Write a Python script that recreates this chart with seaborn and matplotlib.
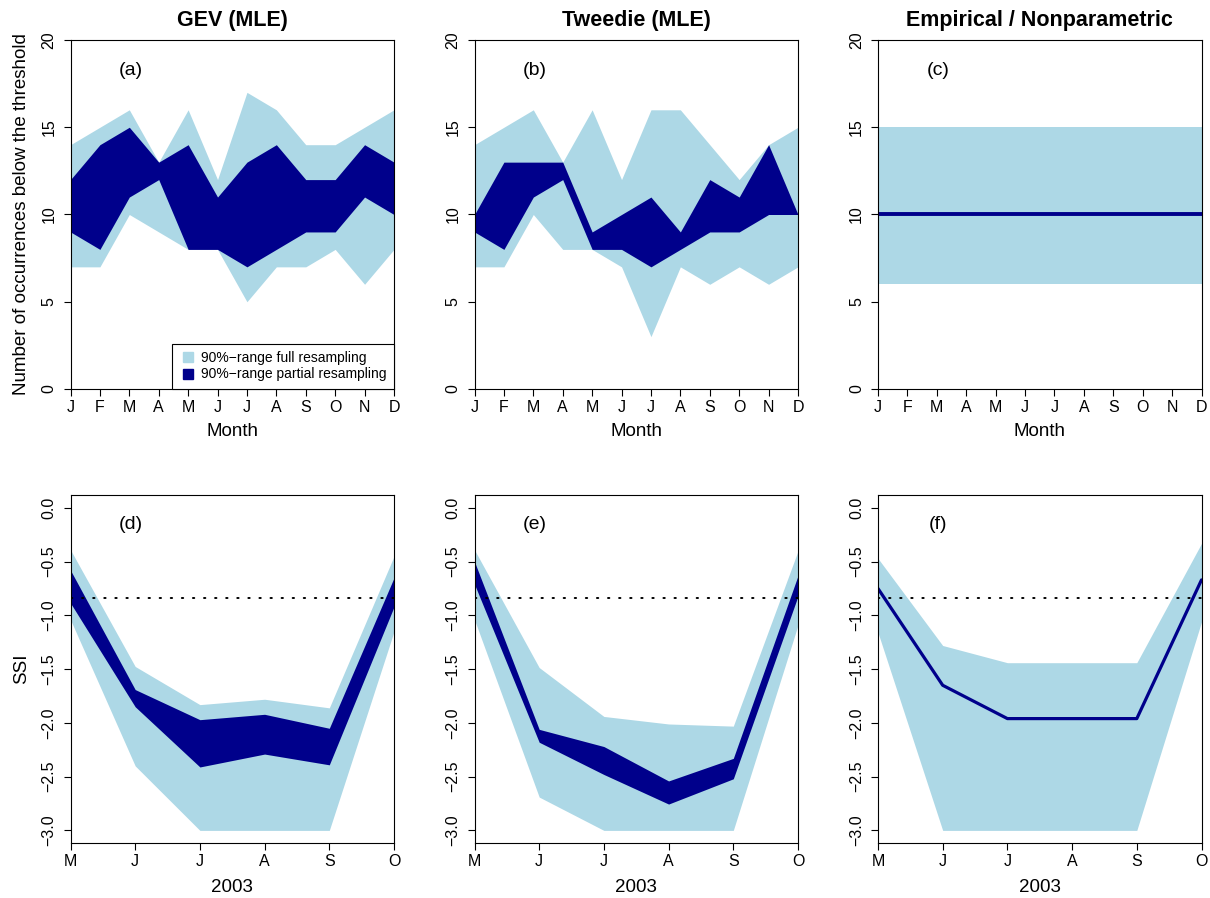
import matplotlib
matplotlib.use("Agg")
import matplotlib.pyplot as plt
from matplotlib.lines import Line2D
import seaborn as sns
import pandas as pd
import numpy as np

# ---------------- data ----------------
months = ['J', 'F', 'M', 'A', 'M', 'J', 'J', 'A', 'S', 'O', 'N', 'D']
gev_full_lo = [7, 7, 10, 9, 8, 8, 5, 7, 7, 8, 6, 8]
gev_full_hi = [14, 15, 16, 13, 16, 12, 17, 16, 14, 14, 15, 16]
gev_part_lo = [9, 8, 11, 12, 8, 8, 7, 8, 9, 9, 11, 10]
gev_part_hi = [12, 14, 15, 13, 14, 11, 13, 14, 12, 12, 14, 13]

tw_full_lo = [7, 7, 10, 8, 8, 7, 3, 7, 6, 7, 6, 7]
tw_full_hi = [14, 15, 16, 13, 16, 12, 16, 16, 14, 12, 14, 15]
tw_part_lo = [9, 8, 11, 12, 8, 8, 7, 8, 9, 9, 10, 10]
tw_part_hi = [10, 13, 13, 13, 9, 10, 11, 9, 12, 11, 14, 10]

emp_full_lo = [6, 6, 6, 6, 6, 6, 6, 6, 6, 6, 6, 6]
emp_full_hi = [15, 15, 15, 15, 15, 15, 15, 15, 15, 15, 15, 15]
emp_part = [10, 10, 10, 10, 10, 10, 10, 10, 10, 10, 10, 10]

months2 = ['M', 'J', 'J', 'A', 'S', 'O']
d_full_hi = [-0.39, -1.475, -1.83, -1.78, -1.86, -0.45]
d_part_hi = [-0.58, -1.69, -1.97, -1.92, -2.05, -0.65]
d_part_lo = [-0.885, -1.85, -2.41, -2.29, -2.39, -0.92]
d_full_lo = [-1.04, -2.40, -3.0, -3.0, -3.0, -1.15]

e_full_hi = [-0.39, -1.485, -1.94, -2.01, -2.03, -0.40]
e_part_hi = [-0.50, -2.06, -2.22, -2.54, -2.33, -0.63]
e_part_lo = [-0.71, -2.18, -2.48, -2.755, -2.52, -0.82]
e_full_lo = [-1.04, -2.69, -3.0, -3.0, -3.0, -1.09]

f_full_hi = [-0.47, -1.28, -1.44, -1.44, -1.44, -0.33]
f_line = [-0.75, -1.65, -1.96, -1.96, -1.96, -0.67]
f_full_lo = [-1.16, -3.0, -3.0, -3.0, -3.0, -1.06]

threshold = -0.84

titles = ['GEV (MLE)', 'Tweedie (MLE)', 'Empirical / Nonparametric']
panel_labels = ['(a)', '(b)', '(c)', '(d)', '(e)', '(f)']

LIGHT = '#ADD8E6'
DARK = '#00008B'

# ---------------- style ----------------
sns.set_style("ticks")
plt.rcParams['font.family'] = ['Liberation Sans', 'DejaVu Sans']
plt.rcParams['axes.edgecolor'] = 'black'
plt.rcParams['axes.linewidth'] = 0.8
plt.rcParams['xtick.color'] = 'black'
plt.rcParams['ytick.color'] = 'black'
plt.rcParams['text.color'] = 'black'
plt.rcParams['axes.labelcolor'] = 'black'
plt.rcParams['legend.labelcolor'] = 'black'

fig = plt.figure(figsize=(12.1, 8.98), dpi=100)
W, H = 1210, 898

def make_ax(x0, x1, ytop, ybot):
    return fig.add_axes([x0 / W, (H - ybot) / H, (x1 - x0) / W, (ybot - ytop) / H])

lefts = [70.5, 474.5, 878]
width = 323.5
top_axes = [make_ax(l, l + width, 40, 389) for l in lefts]
bot_axes = [make_ax(l, l + width, 495, 843.3) for l in lefts]

def style_ax(ax):
    ax.tick_params(axis='both', direction='out', length=5, width=0.8,
                   labelsize=11.5, colors='black', labelcolor='black')
    ax.tick_params(axis='x', pad=3)
    ax.tick_params(axis='y', pad=5)
    for lab in ax.get_yticklabels():
        lab.set_rotation(90)
        lab.set_va('center')
    for s in ax.spines.values():
        s.set_visible(True)
        s.set_color('black')
        s.set_linewidth(0.8)

# ---------------- top row ----------------
x12 = np.arange(len(months))
top_data = [
    (gev_full_lo, gev_full_hi, gev_part_lo, gev_part_hi),
    (tw_full_lo, tw_full_hi, tw_part_lo, tw_part_hi),
]
for i, ax in enumerate(top_axes):
    if i < 2:
        flo, fhi, plo, phi = top_data[i]
        ax.fill_between(x12, flo, fhi, color=LIGHT, lw=0)
        ax.fill_between(x12, plo, phi, color=DARK, lw=0)
    else:
        ax.fill_between(x12, emp_full_lo, emp_full_hi, color=LIGHT, lw=0)
        df = pd.DataFrame({'x': x12, 'y': emp_part})
        sns.lineplot(data=df, x='x', y='y', ax=ax, color=DARK, lw=2.8)
    ax.set_xlim(0, 11)
    ax.set_ylim(0, 20)
    ax.set_xticks(x12)
    ax.set_xticklabels(months)
    ax.set_yticks([0, 5, 10, 15, 20])
    ax.set_yticklabels(['0', '5', '10', '15', '20'])
    ax.set_xlabel('Month', fontsize=13.5, color='black')
    ax.xaxis.label.set_va('center')
    ax.xaxis.set_label_coords(0.5, -(432 - 389) / 349)
    if i == 0:
        ax.set_ylabel('Number of occurrences below the threshold', fontsize=13.5, color='black')
        ax.yaxis.label.set_va('center')
        ax.yaxis.set_label_coords(-(70.5 - 21.5) / width, 0.5)
    else:
        ax.set_ylabel('')
    ax.text(0.5, 1 + (40 - 20.5) / 349, titles[i], transform=ax.transAxes,
            ha='center', va='center', fontsize=15.5, fontweight='bold', color='black')
    ax.text(0.186, 0.914, panel_labels[i], transform=ax.transAxes,
            ha='center', va='center', fontsize=14, color='black')
    style_ax(ax)

leg_handles = [
    Line2D([], [], marker='s', ls='', color=LIGHT, markersize=6.5),
    Line2D([], [], marker='s', ls='', color=DARK, markersize=6.5),
]
leg = top_axes[0].legend(leg_handles,
                         ['90%\u2212range full resampling', '90%\u2212range partial resampling'],
                         loc='lower right', borderaxespad=0, fontsize=10,
                         fancybox=False, framealpha=1, edgecolor='black',
                         handletextpad=0.3, handlelength=1.2, borderpad=0.55,
                         labelspacing=0.15, labelcolor='black')
leg.get_frame().set_linewidth(0.8)

# ---------------- bottom row ----------------
x6 = np.arange(len(months2))
bot_full = [(d_full_lo, d_full_hi), (e_full_lo, e_full_hi), (f_full_lo, f_full_hi)]
bot_part = [(d_part_lo, d_part_hi), (e_part_lo, e_part_hi)]
for i, ax in enumerate(bot_axes):
    flo, fhi = bot_full[i]
    ax.fill_between(x6, flo, fhi, color=LIGHT, lw=0)
    if i < 2:
        plo, phi = bot_part[i]
        ax.fill_between(x6, plo, phi, color=DARK, lw=0)
    else:
        df = pd.DataFrame({'x': x6, 'y': f_line})
        sns.lineplot(data=df, x='x', y='y', ax=ax, color=DARK, lw=2.3)
    ax.axhline(threshold, color='black', lw=1.4, ls=(0, (0.7, 5.0)),
               dash_capstyle='round')
    ax.set_xlim(0, 5)
    ax.set_ylim(-3.12, 0.12)
    ax.set_xticks(x6)
    ax.set_xticklabels(months2)
    yt = [0.0, -0.5, -1.0, -1.5, -2.0, -2.5, -3.0]
    ax.set_yticks(yt)
    ax.set_yticklabels(['0.0', '\u22120.5', '\u22121.0', '\u22121.5', '\u22122.0', '\u22122.5', '\u22123.0'])
    ax.set_xlabel('2003', fontsize=13.5, color='black')
    ax.xaxis.label.set_va('center')
    ax.xaxis.set_label_coords(0.5, -(888 - 843.3) / 348.3)
    if i == 0:
        ax.set_ylabel('SSI', fontsize=13.5, color='black')
        ax.yaxis.label.set_va('center')
        ax.yaxis.set_label_coords(-(70.5 - 21.5) / width, 0.5)
    else:
        ax.set_ylabel('')
    ax.text(0.186, 0.914, panel_labels[i + 3], transform=ax.transAxes,
            ha='center', va='center', fontsize=14, color='black')
    style_ax(ax)

fig.savefig('out.png', dpi=100)
